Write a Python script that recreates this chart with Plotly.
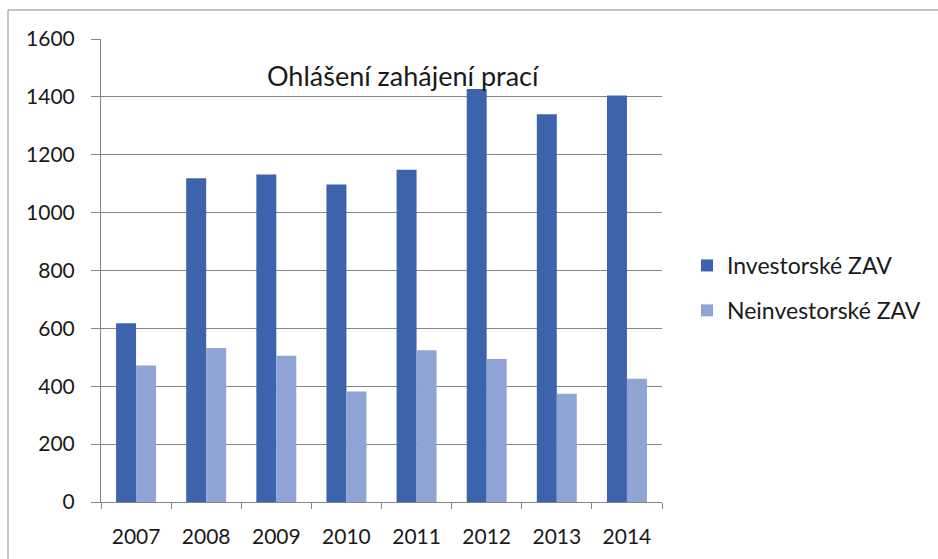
import plotly.graph_objects as go

years = ["2007", "2008", "2009", "2010", "2011", "2012", "2013", "2014"]
investorske = [618, 1119, 1132, 1097, 1148, 1427, 1340, 1405]
neinvestorske = [472, 532, 505, 382, 524, 494, 374, 426]
series_names = ["Investorské ZAV", "Neinvestorské ZAV"]
title_text = "Ohlášení zahájení prací"
y_ticks = [0, 200, 400, 600, 800, 1000, 1200, 1400, 1600]

FONT = "Lato, 'Open Sans', sans-serif"

fig = go.Figure()
fig.add_trace(go.Bar(x=years, y=investorske, name=series_names[0],
                     marker=dict(color="#3C63AC", line=dict(width=0)),
                     legendgroup="a"))
fig.add_trace(go.Bar(x=years, y=neinvestorske, name=series_names[1],
                     marker=dict(color="#8FA3D4", line=dict(width=0)),
                     legendgroup="b"))

W, H = 938, 559
L, R, T, B = 101, 662, 39, 502
pw, ph = R - L, B - T

def px(x):
    return (x - L) / pw

def py(y):
    return (B - y) / ph

fig.update_layout(
    width=W, height=H,
    margin=dict(l=L, r=W - R, t=T, b=H - B, autoexpand=False),
    paper_bgcolor="white", plot_bgcolor="white",
    barmode="group", bargap=0.43, bargroupgap=0,
    font=dict(family=FONT, size=21, color="#1a1a1a"),
    showlegend=True,
    legend=dict(x=px(687), y=py(244), xanchor="left", yanchor="top",
                font=dict(size=23, family=FONT, color="#1a1a1a"),
                tracegroupgap=12, bgcolor="rgba(0,0,0,0)"),
    xaxis=dict(type="category", showline=True, linecolor="#868686", linewidth=1,
               ticks="outside", tickson="boundaries", ticklen=6, tickcolor="#868686",
               ticklabelstandoff=16,
               showgrid=False, tickfont=dict(size=21, family=FONT, color="#1a1a1a")),
    yaxis=dict(range=[0, 1600], tickvals=y_ticks, showline=True, linecolor="#868686",
               linewidth=1, ticks="outside", ticklen=9, tickcolor="#868686",
               ticklabelstandoff=12,
               showgrid=True, gridcolor="#868686", gridwidth=1, zeroline=False,
               tickfont=dict(size=21, family=FONT, color="#1a1a1a")),
    annotations=[dict(text=title_text, x=px(403), y=py(75), xref="paper", yref="paper",
                      showarrow=False, xanchor="center", yanchor="middle",
                      font=dict(size=27, family=FONT, color="#1a1a1a"))],
    shapes=[dict(type="rect", xref="paper", yref="paper",
                 x0=px(8), x1=px(960), y0=py(10), y1=py(600),
                 line=dict(color="#8a8a8a", width=1), layer="below")],
)

fig.write_html("out.html", config={"displayModeBar": False},
               post_script="document.body.style.margin='0';document.body.style.overflow='hidden';")
